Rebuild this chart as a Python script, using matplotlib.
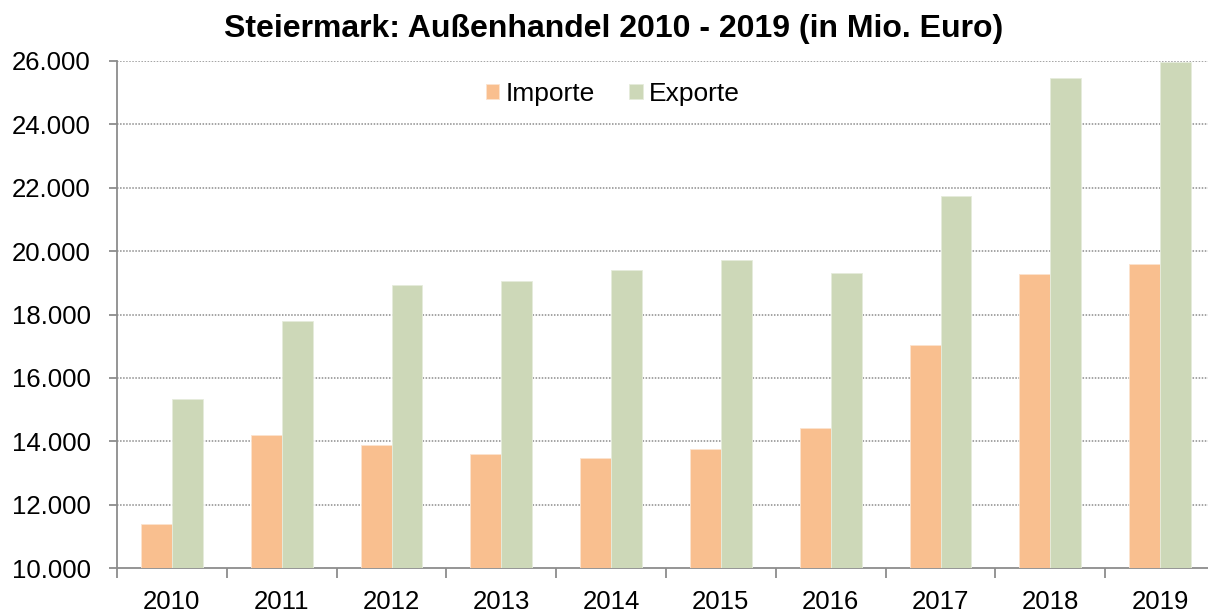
import matplotlib.pyplot as plt
import numpy as np
from matplotlib.ticker import FuncFormatter, FixedLocator

plt.rcParams['font.family'] = ['Liberation Sans', 'DejaVu Sans']

years = ["2010", "2011", "2012", "2013", "2014", "2015", "2016", "2017", "2018", "2019"]
importe = [11390, 14200, 13880, 13600, 13470, 13750, 14420, 17030, 19280, 19600]
exporte = [15340, 17790, 18930, 19060, 19410, 19720, 19300, 21730, 25450, 25960]

fig = plt.figure(figsize=(12.08, 6.12), dpi=100)
ax = fig.add_axes([117 / 1208, 44 / 612, 1098 / 1208, 507 / 612])

x = np.arange(len(years))
w = 0.282
ax.bar(x - w / 2, np.array(importe) - 10000, w, bottom=10000, color="#F9BF8F",
       edgecolor="#FBE3CF", linewidth=0.6, label="Importe", zorder=3)
ax.bar(x + w / 2, np.array(exporte) - 10000, w, bottom=10000, color="#CDD8B8",
       edgecolor="#E6ECDC", linewidth=0.6, label="Exporte", zorder=3)

ax.set_xlim(-0.5, 9.5)
ax.set_ylim(10000, 26000)
ax.set_yticks(np.arange(10000, 26001, 2000))
ax.yaxis.set_major_formatter(FuncFormatter(lambda v, p: f"{int(v):,}".replace(",", ".")))

ax.set_xticks(x)
ax.set_xticklabels(years)
ax.xaxis.set_minor_locator(FixedLocator(np.arange(-0.5, 10, 1)))
ax.tick_params(axis="x", which="major", length=0, labelsize=18.5, pad=16)
ax.tick_params(axis="x", which="minor", length=7, width=1.3, color="#8C8C8C", direction="out")
ax.tick_params(axis="y", length=6, width=1.3, color="#8C8C8C", labelsize=18.5, pad=13)

for g in np.arange(12000, 26001, 2000):
    ax.axhline(g, color="#8C8C8C", linestyle=(0, (1.0, 1.0)), linewidth=1.1, zorder=1)

for s in ["top", "right"]:
    ax.spines[s].set_visible(False)
for s in ["left", "bottom"]:
    ax.spines[s].set_color("#8C8C8C")
    ax.spines[s].set_linewidth(1.3)

ax.set_title("Steiermark: Außenhandel 2010 - 2019 (in Mio. Euro)", fontsize=23,
             fontweight="bold", x=(614 - 117) / 1098, pad=17.5)

ax.legend(loc="upper center", bbox_to_anchor=((613 - 117) / 1098, 1.005), ncol=2,
          frameon=False, fontsize=19, handlelength=0.5, handleheight=0.5,
          handletextpad=0.25, columnspacing=1.3)

fig.savefig("out.png", dpi=100)
